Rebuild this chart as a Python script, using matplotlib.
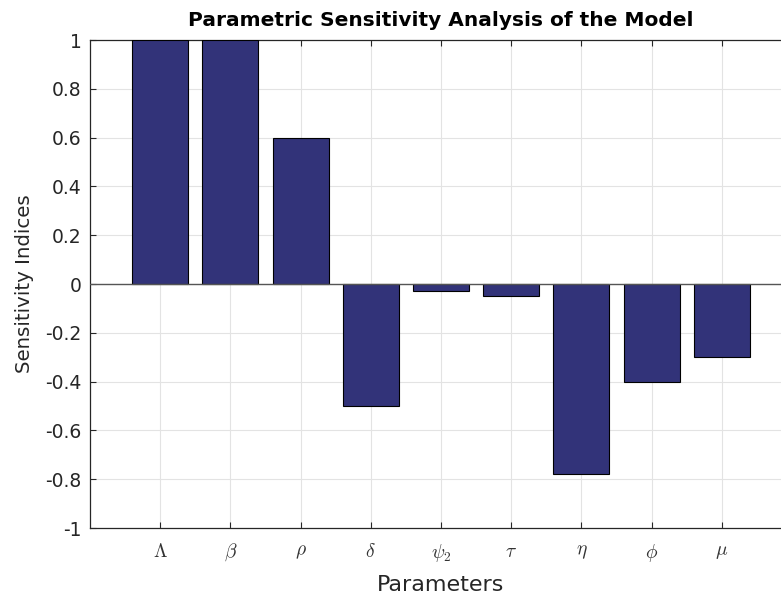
import matplotlib
matplotlib.use("Agg")
import matplotlib.pyplot as plt
import numpy as np

params = [r"$\Lambda$", r"$\beta$", r"$\rho$", r"$\delta$", r"$\psi_{\mathsf{2}}$",
          r"$\tau$", r"$\eta$", r"$\phi$", r"$\mu$"]
indices = [1.0, 1.0, 0.6, -0.5, -0.03, -0.05, -0.78, -0.4, -0.3]
yticks = [-1, -0.8, -0.6, -0.4, -0.2, 0, 0.2, 0.4, 0.6, 0.8, 1]
ytick_labels = ["-1", "-0.8", "-0.6", "-0.4", "-0.2", "0", "0.2", "0.4", "0.6", "0.8", "1"]

plt.rcParams["font.family"] = ["DejaVu Sans"]
plt.rcParams["mathtext.fontset"] = "cm"

W, H = 781, 598
fig = plt.figure(figsize=(W / 100, H / 100), dpi=100)
left, right, top, bottom = 90, 792, 40, 528
ax = fig.add_axes([left / W, 1 - bottom / H, (right - left) / W, (bottom - top) / H])

x = np.arange(1, len(indices) + 1)
ax.bar(x, indices, width=0.8, color="#323379", edgecolor="black", linewidth=0.8, zorder=3)
ax.axhline(0, color="#555555", linewidth=1.0, zorder=4)

ax.set_xlim(0, 10)
ax.set_ylim(-1, 1)
ax.set_xticks(x)
ax.set_xticklabels(params, fontsize=14, color="#333333")
ax.set_yticks(yticks)
ax.set_yticklabels(ytick_labels, fontsize=13.5, color="#262626")

ax.grid(True, color="#e3e3e3", linewidth=0.8, zorder=0)
ax.set_axisbelow(True)
ax.tick_params(direction="in", length=4, width=0.8, color="#262626",
               top=True, right=True)
ax.tick_params(axis="y", pad=6)
ax.tick_params(axis="x", pad=10)
for s in ax.spines.values():
    s.set_color("#262626")
    s.set_linewidth(0.9)

ax.set_xlabel("Parameters", fontsize=16, color="#262626", labelpad=8)
ax.set_ylabel("Sensitivity Indices", fontsize=14.2, color="#262626", labelpad=8)
ax.set_title("Parametric Sensitivity Analysis of the Model", fontsize=14.5,
             fontweight="bold", pad=10)

fig.savefig("out.png", dpi=100)
